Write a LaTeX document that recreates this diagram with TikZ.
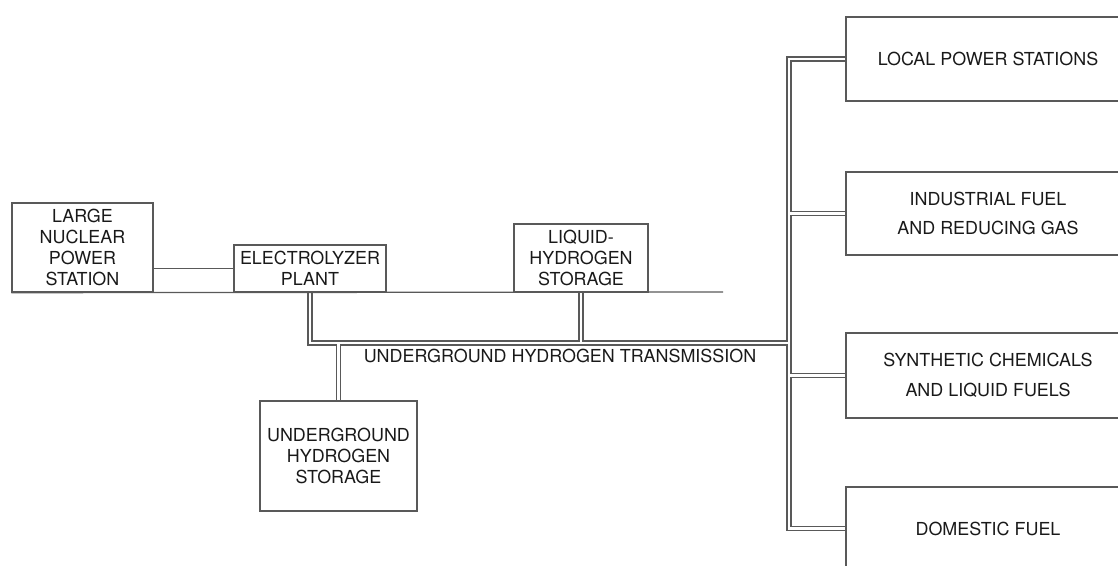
\documentclass[tikz,border=0pt]{standalone}
\usepackage{fontspec}
\setmainfont{TeX Gyre Heros}
\usetikzlibrary{calc}

\newcommand{\pgap}{2}

\begin{document}
\begin{tikzpicture}[x=0.02cm, y=-0.02cm,
    box/.style={draw=black!65, line width=0.75pt, text=black!90, align=center, inner sep=0pt, font=\fontsize{10.2}{12}\selectfont},
    wide/.style={box, minimum width=5.68cm, font=\fontsize{10.2}{17}\selectfont},
    pipe/.style={draw=black!65, line width=0.75pt}]

    \useasboundingbox (0,0) rectangle (1118,565);

    % Draw the plant boxes
    \node[box, minimum width=2.82cm, minimum height=1.78cm] (nuc) at (82.5,247.5) {LARGE\\NUCLEAR\\POWER\\STATION};
    \node[box, minimum width=3.04cm, minimum height=0.94cm] (elec) at (310,268.5) {ELECTROLYZER\\PLANT};
    \node[box, minimum width=2.68cm, minimum height=1.36cm] (liq) at (581,258) {LIQUID-\\HYDROGEN\\STORAGE};
    \node[box, minimum width=3.14cm, minimum height=2.2cm] (ugs) at (338.5,456) {UNDERGROUND\\HYDROGEN\\STORAGE};

    % Draw the users on the right
    \node[wide, minimum height=1.68cm] (loc) at (988,59) {LOCAL POWER STATIONS};
    \node[wide, minimum height=1.66cm] (ind) at (988,213.5) {INDUSTRIAL FUEL\\AND REDUCING GAS};
    \node[wide, minimum height=1.70cm] (syn) at (988,375.5) {SYNTHETIC CHEMICALS\\AND LIQUID FUELS};
    \node[wide, minimum height=1.66cm] (dom) at (988,528.5) {DOMESTIC FUEL};

    % Label the transmission line
    \node[text=black!90, font=\fontsize{10.2}{12}\selectfont] (trl) at (560,356) {UNDERGROUND HYDROGEN TRANSMISSION};

    % Ground line and power link
    \coordinate (gend) at (723,292);
    \coordinate (tr) at (789,343);
    \draw[pipe] (nuc.south west) -- (gend);
    \draw[pipe] (nuc.east |- elec.west) -- (elec.west);

    % Draw the double pipes
    \draw[pipe] ($(elec.south)+(-\pgap,0)$) |- ($(ugs.north |- tr)+(-\pgap,\pgap)$) -- ($(ugs.north)+(-\pgap,0)$);
    \draw[pipe] ($(elec.south)+(\pgap,0)$) |- ($(liq.south |- tr)+(-\pgap,-\pgap)$) -- ($(liq.south)+(-\pgap,0)$);
    \draw[pipe] ($(liq.south)+(\pgap,0)$) |- ($(tr)+(-\pgap,-\pgap)$) |- ($(loc.west)+(0,-\pgap)$);
    \draw[pipe] ($(ugs.north)+(\pgap,0)$) |- ($(tr)+(-\pgap,\pgap)$) |- ($(dom.west)+(0,\pgap)$);
    \foreach \a/\b in {loc/ind, ind/syn, syn/dom}
        \draw[pipe] ($(\a.west)+(0,\pgap)$) -| ($(tr |- \b.west)+(\pgap,-\pgap)$) -- ($(\b.west)+(0,-\pgap)$);

\end{tikzpicture}
\end{document}
